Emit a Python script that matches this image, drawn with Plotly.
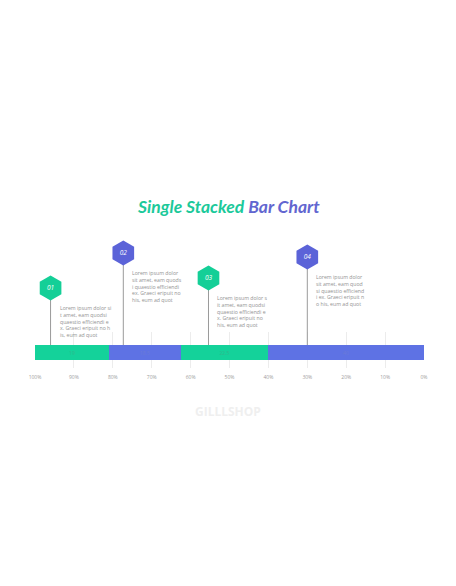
import plotly.graph_objects as go

# segment data (left to right on a 100% -> 0% axis)
segment_names = ["01", "02", "03", "04"]
segment_values = [19, 18.5, 22.5, 40]
segment_colors = ["#14D29A", "#5E72E4", "#14D29A", "#5E72E4"]
label_colors = ["#2FB88C", "#6A7AD8", "#2FB88C", "#6A7AD8"]

# callouts
callout_ids = ["01", "02", "03", "04"]
callout_x = [96, 77.3, 55.4, 30]
callout_text = [
    "Lorem ipsum dolor si<br>t amet, eam quodsi<br>quaestio efficiendi e<br>x. Graeci eripuit no h<br>is, eum ad quot",
    "Lorem ipsum dolor<br>sit amet, eam quods<br>i quaestio efficiendi<br>ex. Graeci eripuit no<br>his, eum ad quot",
    "Lorem ipsum dolor s<br>it amet, eam quodsi<br>quaestio efficiendi e<br>x. Graeci eripuit no<br>his, eum ad quot",
    "Lorem ipsum dolor<br>sit amet, eam quod<br>si quaestio efficiend<br>i ex. Graeci eripuit n<br>o his, eum ad quot",
]
tick_vals = [100, 90, 80, 70, 60, 50, 40, 30, 20, 10, 0]
tick_text = ["100%", "90%", "80%", "70%", "60%", "50%", "40%", "30%", "20%", "10%", "0%"]

# layout helpers (pixel rows on the 456x586 page)
W, H = 456, 586
hex_y = [288, 253, 278, 257]
bar_top = 345
hex_colors = ["#14CF97", "#5B63D8", "#14CF97", "#5B63D8"]
x_dom = [35 / W, 424 / W]

fig = go.Figure()

# stacked bar - axis is reversed so stack from the right-hand segment
for i in reversed(range(len(segment_values))):
    fig.add_trace(go.Bar(
        x=[segment_values[i]], y=[0.43], orientation="h", width=0.42,
        marker=dict(color=segment_colors[i], line=dict(width=0)),
        text=[f"{segment_values[i]:g}"], textposition="inside",
        insidetextanchor="middle",
        textfont=dict(size=5, color=label_colors[i], family="Open Sans"),
        name=segment_names[i], showlegend=False, hoverinfo="x",
    ))

# callout stems and hexagons on a pixel-scaled second subplot
for i in range(len(callout_ids)):
    fig.add_trace(go.Scatter(
        x=[callout_x[i], callout_x[i]], y=[hex_y[i], bar_top],
        xaxis="x2", yaxis="y2",
        mode="lines", line=dict(color="#9a9a9a", width=1),
        showlegend=False, hoverinfo="skip",
    ))
fig.add_trace(go.Scatter(
    x=callout_x, y=hex_y, xaxis="x2", yaxis="y2", mode="markers+text",
    marker=dict(symbol="hexagon", size=25, color=hex_colors, line=dict(width=0)),
    text=[f"<i>{c}</i>" for c in callout_ids], textposition="middle center",
    textfont=dict(size=6.5, color="white", family="Open Sans"),
    showlegend=False, hoverinfo="skip",
))

for i in range(len(callout_ids)):
    fig.add_annotation(
        x=callout_x[i], y=hex_y[i] + 14, xref="x2", yref="y2",
        text=callout_text[i], showarrow=False, xanchor="left", yanchor="top",
        align="left", xshift=7,
        font=dict(size=5.2, color="#939393", family="Open Sans"),
    )

# title
fig.add_annotation(
    x=0.5, y=1 - 206 / H, xref="paper", yref="paper", showarrow=False,
    yanchor="middle",
    text="<b><i><span style='color:#1CC99A'>Single Stacked</span> "
         "<span style='color:#6266D0'>Bar Chart</span></i></b>",
    font=dict(size=17.5, family="Lato"),
)

# watermark
fig.add_annotation(
    x=0.5, y=1 - 411 / H, xref="paper", yref="paper", showarrow=False,
    yanchor="middle",
    text="<b>GILLLSHOP</b>", font=dict(size=12, color="#EFEFEF", family="Open Sans"),
)

fig.update_layout(
    width=W, height=H, autosize=False,
    margin=dict(l=0, r=0, t=0, b=0),
    paper_bgcolor="white", plot_bgcolor="rgba(0,0,0,0)",
    barmode="stack", bargap=0,
    xaxis=dict(
        domain=x_dom, range=[100, 0], anchor="y",
        tickvals=tick_vals, ticktext=tick_text,
        tickfont=dict(size=5, color="#a0a0a0", family="Open Sans"),
        showgrid=True, gridcolor="#ececec", gridwidth=1,
        zeroline=False, showline=False, ticks="", ticklabelstandoff=5,
        automargin=False,
    ),
    yaxis=dict(
        domain=[1 - 368 / H, 1 - 332 / H], range=[0, 1], anchor="x",
        showticklabels=False, showgrid=False, zeroline=False, automargin=False,
    ),
    xaxis2=dict(
        domain=x_dom, range=[100, 0], anchor="y2",
        visible=False, showgrid=False, zeroline=False,
    ),
    yaxis2=dict(
        domain=[0, 1], range=[H, 0], anchor="x2",
        visible=False, showgrid=False, zeroline=False,
    ),
)

fig.write_html("out.html", config={"displayModeBar": False},
               post_script="document.body.style.margin='0';")
